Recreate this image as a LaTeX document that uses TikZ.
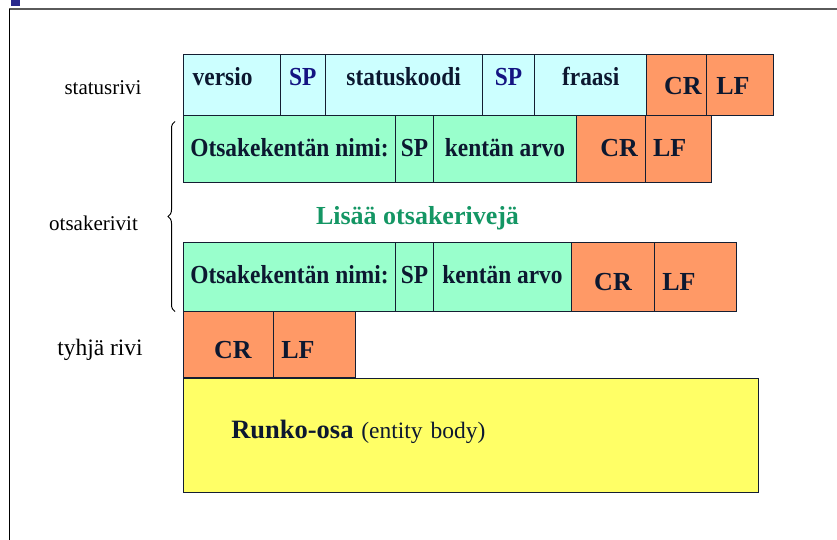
\documentclass[tikz,border=0pt]{standalone}
\usepackage{fontspec}
\setmainfont{Liberation Serif}
\newfontfamily\narrowserif[FakeStretch=0.9]{Liberation Serif}
\usetikzlibrary{positioning,decorations.pathreplacing}

\definecolor{ink}{RGB}{12,24,48}
\definecolor{edge}{RGB}{20,30,50}
\definecolor{spblue}{RGB}{20,20,130}
\definecolor{statfill}{RGB}{204,255,255}
\definecolor{hdrfill}{RGB}{153,255,204}
\definecolor{crlffill}{RGB}{255,153,102}
\definecolor{bodyfill}{RGB}{255,255,102}
\definecolor{moregreen}{RGB}{20,150,100}
\definecolor{framegray}{RGB}{90,90,90}
\definecolor{marknavy}{RGB}{40,40,140}

\newcommand{\fsz}[1]{\fontsize{#1}{#1}\selectfont}

\begin{document}
\begin{tikzpicture}[x=1pt,y=-1pt,
  fld/.style={draw=edge,line width=0.9pt,inner sep=0pt,outer sep=0pt,text=ink,
    font=\narrowserif\bfseries\fsz{26},text depth=0pt},
  ctrl/.style={fld,fill=crlffill,font=\bfseries\fsz{26}},
  stat/.style={fld,fill=statfill,minimum height=60.7pt,text height=2.7pt},
  statctrl/.style={ctrl,minimum height=60.7pt,text height=20.7pt},
  hdrA/.style={fld,fill=hdrfill,minimum height=67.7pt,text height=16.3pt},
  hdrActrl/.style={ctrl,minimum height=67.7pt,text height=16.3pt},
  hdrB/.style={fld,fill=hdrfill,minimum height=68.3pt,text height=12.3pt},
  hdrBctrl/.style={ctrl,minimum height=68.3pt,text height=26.3pt},
  blankctrl/.style={ctrl,minimum height=66.7pt,text height=27.9pt},
  padl/.style 2 args={align=left,text width=#1,inner xsep=#2},
  padr/.style 2 args={align=right,text width=#1,inner xsep=#2},
  side/.style={anchor=base,text=black,font=\fsz{21}},
]
\useasboundingbox (0,0) rectangle (837,540);

% slide frame
\fill[marknavy] (11,0) rectangle (20,6.5);
\draw[framegray,line width=1.6pt] (9,9) -- (837,9);
\draw[black,line width=1pt] (9.3,9) -- (9.3,540);

% status line
\node[stat,padl={78.6pt}{9.4pt},anchor=north west] (versio) at (183.3,54.3) {versio};
\node[stat,minimum width=44.3pt,right=0pt of versio,text=spblue] (sp1) {SP};
\node[stat,minimum width=157.3pt,right=0pt of sp1] (koodi) {statuskoodi};
\node[stat,minimum width=52.4pt,right=0pt of koodi,text=spblue] (sp2) {SP};
\node[stat,minimum width=112pt,right=0pt of sp2] (fraasi) {fraasi};
\node[statctrl,padr={50.4pt}{4.6pt},right=0pt of fraasi] (cr0) {CR};
\node[statctrl,padl={47pt}{10pt},right=0pt of cr0] (lf0) {LF};

% header lines
\node[hdrA,minimum width=212.4pt,anchor=north west] (nameA) at (183.3,115) {Otsakekentän nimi:};
\node[hdrA,minimum width=37.6pt,right=0pt of nameA] (spA) {SP};
\node[hdrA,minimum width=143.4pt,right=0pt of spA] (arvoA) {kentän arvo};
\node[hdrActrl,padr={54.3pt}{7pt},right=0pt of arvoA] (crA) {CR};
\node[hdrActrl,padl={50.3pt}{8pt},right=0pt of crA] (lfA) {LF};

\node[anchor=base,text=moregreen,font=\bfseries\fsz{26}] (lisaa) at (417.5,224) {Lisää otsakerivejä};

\node[hdrB,minimum width=212.4pt,anchor=north west] (nameB) at (183.3,242.7) {Otsakekentän nimi:};
\node[hdrB,minimum width=37.6pt,right=0pt of nameB] (spB) {SP};
\node[hdrB,minimum width=138.4pt,right=0pt of spB] (arvoB) {kentän arvo};
\node[hdrBctrl,minimum width=82.6pt,right=0pt of arvoB] (crB) {CR};
\node[hdrBctrl,padl={65.7pt}{8pt},right=0pt of crB] (lfB) {LF};

% empty line
\node[blankctrl,padr={46.8pt}{21.6pt},anchor=north west] (crC) at (183.3,311) {CR};
\node[blankctrl,padl={65.7pt}{8pt},right=0pt of crC] (lfC) {LF};

% body
\node[fld,fill=bodyfill,anchor=north west,minimum height=114.7pt,text height=5.6pt,
  padl={478.7pt}{48pt},font=\mdseries\fsz{23.5}] (runko) at (183.3,378)
  {{\bfseries\fsz{26.5}Runko-osa} (entity body)};

% row names
\node[side] (status) at (103,95) {statusrivi};
\node[side] (otsake) at (93.5,230.7) {otsakerivit};
\node[side,font=\fsz{23.5}] (tyhja) at (100,355) {tyhjä rivi};

\coordinate (brbot) at (175,311.5);
\coordinate (brtop) at (175,121.5);
\draw[decorate,decoration={brace,amplitude=7pt},line width=1pt] (brbot) -- (brtop);
\end{tikzpicture}
\end{document}
